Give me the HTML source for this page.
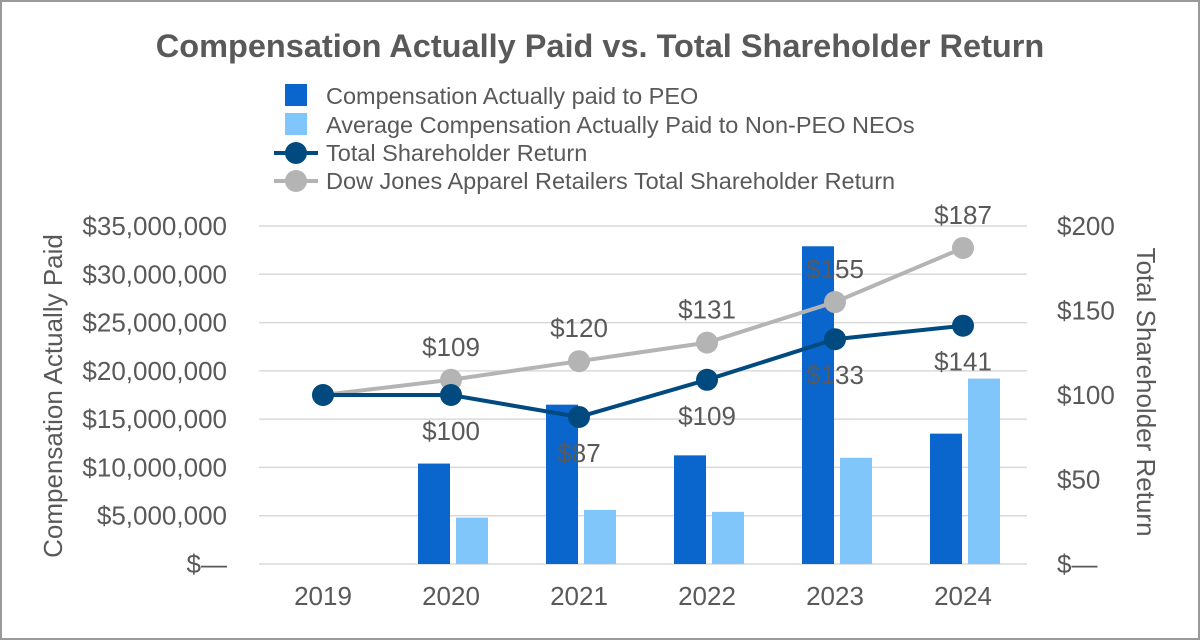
<!DOCTYPE html>
<html><head><meta charset="utf-8"><style>
body{margin:0;background:#fff;}
svg{display:block;font-family:"Liberation Sans",sans-serif;}
</style></head><body>
<svg id="chart" width="1200" height="640">
<rect x="1" y="1" width="1198" height="638" fill="#fff" stroke="#9a9a9a" stroke-width="2"/>
<text x="600" y="57" text-anchor="middle" font-size="32.5" font-weight="bold" fill="#595959">Compensation Actually Paid vs. Total Shareholder Return</text>
<g id="legend">
<rect x="285" y="84" width="22" height="22" fill="#0a66cc"/>
<text x="326" y="104" font-size="23.5" fill="#595959">Compensation Actually paid to PEO</text>
<rect x="285" y="113" width="22" height="22" fill="#80c6fb"/>
<text x="326" y="133" font-size="23.5" fill="#595959">Average Compensation Actually Paid to Non-PEO NEOs</text>
<line x1="274" y1="153" x2="318" y2="153" stroke="#004a80" stroke-width="4"/>
<circle cx="296" cy="153" r="11" fill="#004a80"/>
<text x="326" y="161" font-size="23.5" fill="#595959">Total Shareholder Return</text>
<line x1="274" y1="181" x2="318" y2="181" stroke="#b4b4b4" stroke-width="4"/>
<circle cx="296" cy="181" r="11" fill="#b4b4b4"/>
<text x="326" y="189" font-size="23.5" fill="#595959">Dow Jones Apparel Retailers Total Shareholder Return</text>
</g>
<text transform="translate(62,396) rotate(-90)" text-anchor="middle" font-size="26" fill="#595959">Compensation Actually Paid</text>
<text transform="translate(1137,392) rotate(90)" text-anchor="middle" font-size="26" fill="#595959">Total Shareholder Return</text>
<g id="grid"></g><g id="bars"></g><g id="lines"></g><g id="labels"></g>
</svg>
<script>
const categories=["2019","2020","2021","2022","2023","2024"];
const peoComp=[0,10.4,16.5,11.25,32.9,13.5];
const nonPeoComp=[0,4.8,5.6,5.4,11.0,19.2];
const tsr=[100,100,87,109,133,141];
const peerTsr=[100,109,120,131,155,187];
const leftTicks=[0,5,10,15,20,25,30,35];
const leftTickLabels=["$\u2014","$5,000,000","$10,000,000","$15,000,000","$20,000,000","$25,000,000","$30,000,000","$35,000,000"];
const rightTicks=[0,50,100,150,200];
const rightTickLabels=["$\u2014","$50","$100","$150","$200"];

const NS="http://www.w3.org/2000/svg";
const plotL=259,plotR=1027,plotT=226,plotB=564;
const band=(plotR-plotL)/categories.length;
const xC=i=>plotL+band*(i+0.5);
const yL=v=>plotB-(plotB-plotT)*v/35;
const yR=v=>plotB-(plotB-plotT)*v/200;
function mk(tag,attrs,parent){const e=document.createElementNS(NS,tag);for(const k in attrs)e.setAttribute(k,attrs[k]);document.getElementById(parent).appendChild(e);return e;}
function txt(x,y,s,anchor,parent,size){const t=mk("text",{x:x,y:y,"text-anchor":anchor,"font-size":size||26,fill:"#595959"},parent);t.textContent=s;return t;}

leftTicks.forEach((v,i)=>{
  const g=mk("line",{x1:plotL,x2:plotR,y1:yL(v),y2:yL(v),stroke:"#d9d9d9","stroke-width":1.5},"grid");
  
  
  const t=txt(227,yL(v)+9,leftTickLabels[i],"end","grid");
  
  
});
rightTicks.forEach((v,i)=>{
  const t=txt(1057,yR(v)+9,rightTickLabels[i],"start","grid");
  
  
});
categories.forEach((c,i)=>{
  const t=txt(xC(i),605,c,"middle","grid");
  
  
  if(peoComp[i]>0){
    const b=mk("rect",{x:xC(i)-33,y:yL(peoComp[i]),width:32,height:plotB-yL(peoComp[i]),fill:"#0a66cc"},"bars");
    
    
  }
  if(nonPeoComp[i]>0){
    const b=mk("rect",{x:xC(i)+5,y:yL(nonPeoComp[i]),width:32,height:plotB-yL(nonPeoComp[i]),fill:"#80c6fb"},"bars");
    
    
  }
});
function series(vals,color,name,dy){
  const pts=vals.map((v,i)=>xC(i)+","+yR(v)).join(" ");
  const l=mk("polyline",{points:pts,fill:"none",stroke:color,"stroke-width":4},"lines");
  
  
  vals.forEach((v,i)=>{
    const p=mk("circle",{cx:xC(i),cy:yR(v),r:11,fill:color},"lines");
    
    
    if(i>0){
      const t=txt(xC(i),yR(v)+dy,"$"+v,"middle","labels",26);
      
      
    }
  });
}
series(peerTsr,"#b4b4b4","peer-tsr",-24);
series(tsr,"#004a80","tsr",45);
</script>
</body></html>
